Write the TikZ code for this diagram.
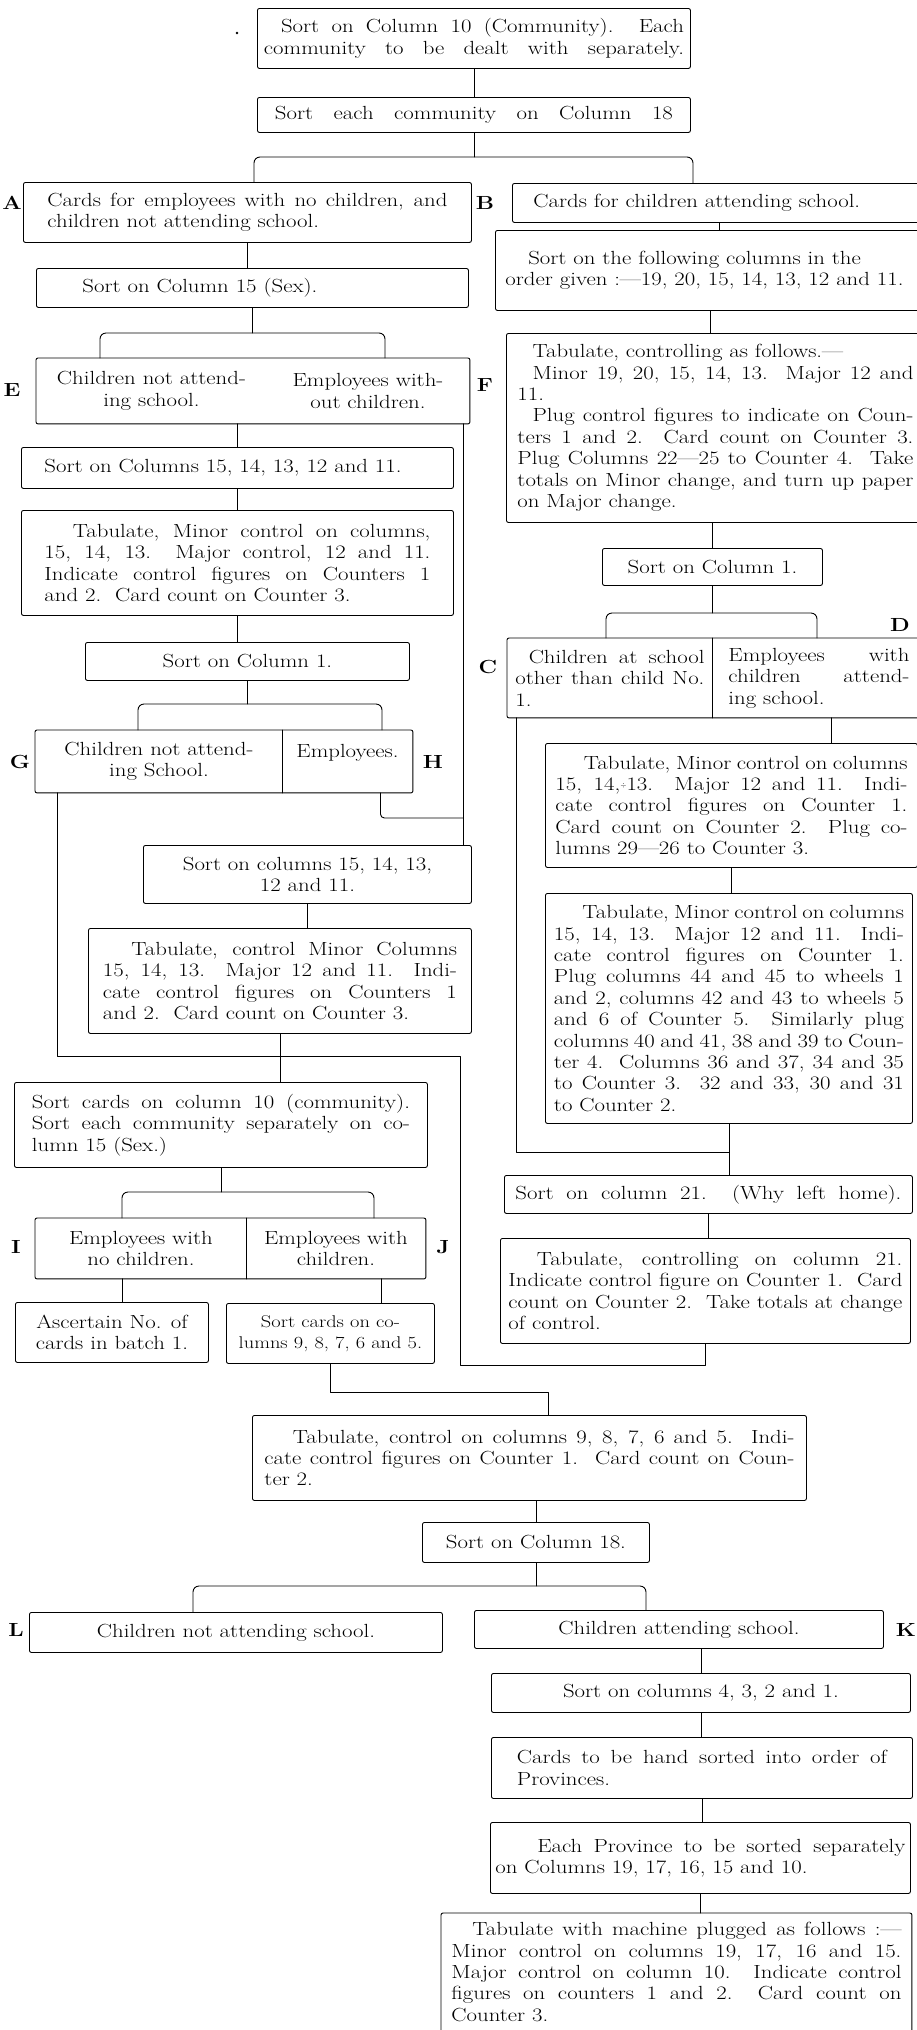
\documentclass[tikz,border=0pt]{standalone}
\usepackage{fontspec}
\setmainfont{Latin Modern Roman}[Ligatures=TeX,FakeStretch=1.2]
\newcommand\cardfont{\fontsize{19}{21.4}\selectfont}
\newcommand\fillline[1]{\makebox[\hsize][s]{#1}}
\tolerance=10000
\hbadness=10000
\hfuzz=40pt
\hyphenpenalty=10000
\exhyphenpenalty=10000
\begin{document}
\begin{tikzpicture}[
	x=1pt,y=-1pt,
	line width=0.9pt,
	line cap=round,
	line join=round,
	box/.style={draw,rounded corners=2pt,anchor=north west,inner sep=0pt,font=\cardfont,align=justify},
	part/.style={anchor=north west,inner sep=0pt,font=\cardfont,align=justify},
	tag/.style={inner sep=0pt,font=\cardfont\bfseries},
	fork/.style={rounded corners=6pt}
	]
	\useasboundingbox (0,0) rectangle (917,2030);
	\fill (237,33) circle (1.4pt);
	% top
	\node[box,minimum width=433pt,minimum height=60pt,text width=420pt] (comm10) at (257,8) {\hspace*{0.9em}Sort on Column 10 (Community). Each\linebreak \fillline{community to be dealt with separately.}};
	\node[box,minimum width=433pt,minimum height=35pt,text width=398pt] (comm18) at (257,97) {\fillline{Sort each community on Column 18}};
	\node[box,minimum width=448pt,minimum height=60pt,text width=400pt] (A) at (23,182) {Cards for employees with no children, and\linebreak children not attending school.};
	\node[tag] (tagA) at (12,203) {A};
	\node[box,minimum width=413pt,minimum height=39pt,text width=371pt] (B) at (512,183) {Cards for children attending school.};
	\node[tag] (tagB) at (485,203) {B};
	% left column
	\node[box,minimum width=432pt,minimum height=39pt,text width=340pt] (sex) at (36,268) {Sort on Column 15 (Sex).};
	\node[part,minimum width=230pt,minimum height=65pt,align=center] (E1) at (36,358) {Children not attend-\\ing school.};
	\node[part,minimum width=203pt,minimum height=65pt,align=center] (E2) at (266,358) {Employees with-\\out children.};
	\draw[rounded corners=2pt] (E1.north west) rectangle (E2.south east);
	\node[tag] (tagE) at (12,390) {E};
	\node[box,minimum width=432pt,minimum height=41pt,text width=386pt] (sort15b) at (21,447) {Sort on Columns 15, 14, 13, 12 and 11.};
	\node[box,minimum width=432pt,minimum height=105pt,text width=386pt] (tab1) at (21,510) {\hspace*{1.5em}Tabulate, Minor control on columns,\linebreak
		15, 14, 13.\ \ Major control, 12 and 11.\linebreak
		Indicate control figures on Counters 1\linebreak
		and 2.\ \ Card count on Counter 3.};
	\node[box,minimum width=324pt,minimum height=38pt,align=center] (colL) at (85,642) {Sort on Column 1.};
	\node[part,minimum width=247pt,minimum height=62pt,align=center] (G1) at (35,730) {Children not attend-\\ing School.};
	\node[part,minimum width=130pt,minimum height=62pt,align=center] (H1) at (282,730) {Employees.\\\mbox{}};
	\draw[rounded corners=2pt] (G1.north west) rectangle (H1.south east);
	\draw (G1.north east) -- (G1.south east);
	\node[tag] (tagG) at (20,762) {G};
	\node[tag] (tagH) at (433,762) {H};
	\node[box,minimum width=328pt,minimum height=58pt,align=center] (sort15c) at (143,845) {Sort on columns 15, 14, 13,\\12 and 11.};
	\node[box,minimum width=383pt,minimum height=105pt,text width=354pt] (tab2) at (88,928) {\hspace*{1.5em}Tabulate, control Minor Columns\linebreak
		15, 14, 13.\ \ Major 12 and 11.\ \ Indi-\linebreak
		cate control figures on Counters 1\linebreak
		and 2.\ \ Card count on Counter 3.};
	\node[box,minimum width=413pt,minimum height=85pt,text width=378pt] (cards10) at (14,1082) {Sort cards on column 10 (community).\linebreak
		Sort each community separately on co-\linebreak
		lumn 15 (Sex.)};
	\node[part,minimum width=211pt,minimum height=60pt,align=center] (I1) at (35,1218) {Employees with\\no children.};
	\node[part,minimum width=179pt,minimum height=60pt,align=center] (J1) at (246,1218) {Employees with\\children.};
	\draw[rounded corners=2pt] (I1.north west) rectangle (J1.south east);
	\draw (I1.north east) -- (I1.south east);
	\node[tag] (tagI) at (16,1247) {I};
	\node[tag] (tagJ) at (443,1247) {J};
	\node[box,minimum width=193pt,minimum height=60pt,align=center] (batch) at (15,1302) {Ascertain No. of\\cards in batch 1.};
	\node[box,minimum width=208pt,minimum height=60pt,align=center,font=\fontsize{17}{21.4}\selectfont] (col98) at (226,1303) {Sort cards on co-\\lumns 9, 8, 7, 6 and 5.};
	% right column
	\node[box,minimum width=430pt,minimum height=80pt,text width=410pt] (order) at (495,230) {\hspace*{1.2em}Sort on the following columns in the\newline order given :---19, 20, 15, 14, 13, 12 and 11.};
	\node[box,minimum width=418pt,minimum height=189pt,text width=396pt] (F) at (506,333) {\hspace*{0.8em}Tabulate, controlling as follows.---\newline
		\hspace*{0.8em}Minor 19, 20, 15, 14, 13.\ \ Major 12 and\linebreak
		11.\par
		\hspace*{0.8em}Plug control figures to indicate on Coun-\linebreak
		ters 1 and 2.\ \ Card count on Counter 3.\linebreak
		Plug Columns 22---25 to Counter 4.\ \ Take\linebreak
		totals on Minor change, and turn up paper\linebreak
		on Major change.};
	\node[tag] (tagF) at (485,385) {F};
	\node[box,minimum width=220pt,minimum height=37pt,align=center] (colR) at (602,548) {Sort on Column 1.};
	\node[part,minimum width=205pt,minimum height=79pt,text width=189pt] (C1) at (507,638) {\hspace*{0.7em}Children at school\linebreak other than child No.\linebreak 1.};
	\node[part,minimum width=213pt,minimum height=79pt,text width=181pt] (D1) at (712,638) {Employees with\linebreak children attend-\linebreak ing school.};
	\draw[rounded corners=2pt] (C1.north west) rectangle (D1.south east);
	\draw (C1.north east) -- (C1.south east);
	\node[tag] (tagC) at (488,667) {C};
	\node[tag] (tagD) at (900,625) {D};
	\node[box,minimum width=372pt,minimum height=124pt,text width=352pt] (tab5) at (545,743) {\hspace*{1.5em}Tabulate, Minor control on columns\linebreak
		15, 14,\raisebox{.35ex}{\scriptsize$\div$}13.\ \ Major 12 and 11.\ \ Indi-\linebreak
		cate control figures on Counter 1.\linebreak
		Card count on Counter 2.\ \ Plug co-\linebreak
		lumns 29---26 to Counter 3.};
	\node[box,minimum width=367pt,minimum height=230pt,text width=350pt] (tab6) at (545,893) {\hspace*{1.5em}Tabulate, Minor control on columns\linebreak
		15, 14, 13.\ \ Major 12 and 11.\ \ Indi-\linebreak
		cate control figures on Counter 1.\linebreak
		Plug columns 44 and 45 to wheels 1\linebreak
		and 2, columns 42 and 43 to wheels 5\linebreak
		and 6 of Counter 5.\ \ Similarly plug\linebreak
		columns 40 and 41, 38 and 39 to Coun-\linebreak
		ter 4.\ \ Columns 36 and 37, 34 and 35\linebreak
		to Counter 3.\ \ 32 and 33, 30 and 31\linebreak
		to Counter 2.};
	\node[box,minimum width=408pt,minimum height=38pt,text width=386pt] (col21) at (504,1175) {\fillline{Sort on column 21.\ \ (Why left home).}};
	\node[box,minimum width=410pt,minimum height=105pt,text width=394pt] (tab7) at (500,1238) {\hspace*{1.5em}Tabulate, controlling on column 21.\linebreak
		Indicate control figure on Counter 1.\ \ Card\linebreak
		count on Counter 2.\ \ Take totals at change\linebreak
		of control.};
	% lower part
	\node[box,minimum width=554pt,minimum height=85pt,text width=530pt] (tab3) at (252,1415) {\hspace*{1.5em}Tabulate, control on columns 9, 8, 7, 6 and 5.\ \ Indi-\linebreak
		cate control figures on Counter 1.\ \ Card count on Coun-\linebreak
		ter 2.};
	\node[box,minimum width=227pt,minimum height=40pt,align=center] (col18) at (422,1522) {Sort on Column 18.};
	\node[box,minimum width=413pt,minimum height=40pt,align=center] (L) at (29,1612) {Children not attending school.};
	\node[tag] (tagL) at (16,1630) {L};
	\node[box,minimum width=409pt,minimum height=38pt,align=center] (K) at (474,1610) {Children attending school.};
	\node[tag] (tagK) at (906,1630) {K};
	\node[box,minimum width=419pt,minimum height=39pt,align=center] (col4) at (491,1673) {Sort on columns 4, 3, 2 and 1.};
	\node[box,minimum width=421pt,minimum height=61pt,text width=370pt] (hand) at (491,1737) {Cards to be hand sorted into order of\linebreak Provinces.};
	\node[box,minimum width=420pt,minimum height=71pt,text width=410pt] (each) at (490,1822) {\hspace*{2.2em}Each Province to be sorted separately\linebreak on Columns 19, 17, 16, 15 and 10.};
	\node[part,minimum width=470pt,minimum height=117pt,text width=450pt] (tab4) at (441,1913) {\hspace*{1.1em}Tabulate with machine plugged as follows :---\linebreak
		Minor control on columns 19, 17, 16 and 15.\linebreak
		Major control on column 10.\ \ Indicate control\linebreak
		figures on counters 1 and 2.\ \ Card count on\linebreak
		Counter 3.};
	\draw[rounded corners=2pt] (tab4.south west) |- (tab4.north east) -- (tab4.south east);
	% joints
	\coordinate (f1L) at (254,157);
	\coordinate (f1R) at (693,157);
	\coordinate (f2L) at (100,333);
	\coordinate (f2R) at (385,333);
	\coordinate (f3L) at (138,704);
	\coordinate (f3R) at (382,704);
	\coordinate (f4L) at (122,1192);
	\coordinate (f4R) at (374,1192);
	\coordinate (f5L) at (193,1586);
	\coordinate (f5R) at (646,1586);
	\coordinate (f6L) at (606,613);
	\coordinate (f6R) at (817,613);
	\coordinate (hjoin) at (463,818);
	\coordinate (gjoin) at (460,1056);
	\coordinate (tjoin) at (460,1365);
	\coordinate (cjoin) at (0,1152);
	\coordinate (t3) at (548,1392);
	\begin{scope}
		\draw (comm10.south) -- (comm18.north);
		\draw (comm18.south) -- (comm18.south |- f1L);
		\draw[fork] (A.north -| f1L) -- (f1L) -- (f1R) -- (B.north -| f1R);
		\draw (A.south) -- (A.south |- sex.north);
		\draw (sex.south) -- (sex.south |- f2L);
		\draw[fork] (E1.north -| f2L) -- (f2L) -- (f2R) -- (E2.north -| f2R);
		\draw (sort15b.north |- E1.south) -- (sort15b.north);
		\draw ([xshift=-6pt]E2.south east) -- ([xshift=-6pt]E2.south east |- sort15c.north);
		\draw (sort15b.south) -- (tab1.north);
		\draw (tab1.south) -- (tab1.south |- colL.north);
		\draw (colL.south) -- (colL.south |- f3L);
		\draw[fork] (G1.north -| f3L) -- (f3L) -- (f3R) -- (H1.north -| f3R);
		\draw[rounded corners=4pt] ([xshift=33pt]H1.south) |- (hjoin);
		\draw (sort15c.south) -- (sort15c.south |- tab2.north);
		\draw (tab2.south) -- (tab2.south |- cards10.north);
		\draw ([xshift=22pt]G1.south west) |- (gjoin) -- (tjoin) -| (tab7.south);
		\draw (cards10.south) -- (cards10.south |- f4L);
		\draw[fork] (I1.north -| f4L) -- (f4L) -- (f4R) -- (J1.north -| f4R);
		\draw (I1.south -| f4L) -- (batch.north -| f4L);
		\draw ([xshift=45pt]J1.south) -- ([xshift=45pt]J1.south |- col98.north);
		\draw (col98.south) |- (t3) -- (t3 |- tab3.north);
		\draw (B.south) -- (B.south |- order.north);
		\draw (order.south) -- (order.south |- F.north);
		\draw (F.south -| colR.north) -- (colR.north);
		\draw (colR.south) -- (colR.south |- f6L);
		\draw[fork] (C1.north -| f6L) -- (f6L) -- (f6R) -- (D1.north -| f6R);
		\draw ([xshift=12pt]D1.south) -- ([xshift=12pt]D1.south |- tab5.north);
		\draw ([xshift=9pt]C1.south west) |- (tab6.south |- cjoin);
		\draw (tab5.south) -- (tab5.south |- tab6.north);
		\draw (tab6.south) -- (tab6.south |- col21.north);
		\draw (col21.south) -- (col21.south |- tab7.north);
		\draw (col18.north |- tab3.south) -- (col18.north);
		\draw (col18.south) -- (col18.south |- f5L);
		\draw[fork] (L.north -| f5L) -- (f5L) -- (f5R) -- (K.north -| f5R);
		\draw (col4.north |- K.south) -- (col4.north);
		\draw (col4.south) -- (col4.south |- hand.north);
		\draw (hand.south) -- (hand.south |- each.north);
		\draw (each.south) -- (each.south |- tab4.north);
	\end{scope}
\end{tikzpicture}
\end{document}
